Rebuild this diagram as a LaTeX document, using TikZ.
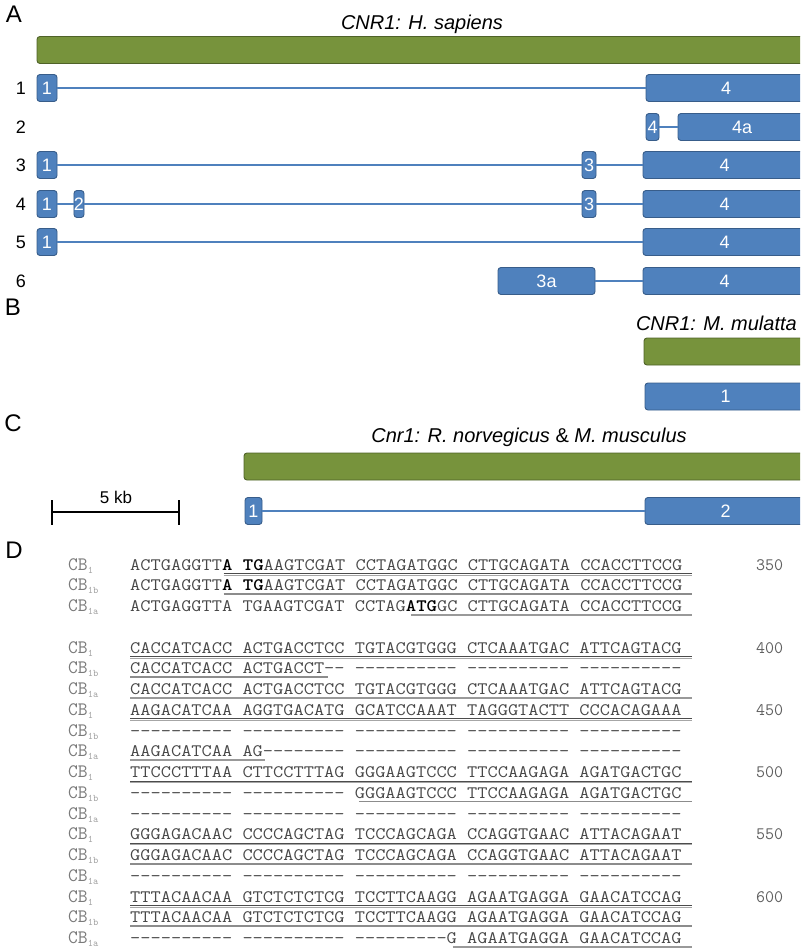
\documentclass[tikz,border=0pt]{standalone}
\usepackage{fontspec}
\setmainfont{Liberation Sans}
\usepackage{graphicx}
\definecolor{exfill}{HTML}{4F81BD}
\definecolor{exdraw}{HTML}{385D8A}
\definecolor{gnfill}{HTML}{77933C}
\definecolor{gndraw}{HTML}{4F6228}
\definecolor{seqc}{HTML}{484848}
\definecolor{labc}{HTML}{7A7A7A}
\definecolor{subc}{HTML}{A0A0A0}
\definecolor{numc}{HTML}{606060}
\newcommand\seqfont{\ttfamily\fontsize{17.5}{17.5}\selectfont}
\newcommand\labfont{\ttfamily\fontsize{19}{19}\selectfont}
\newcommand\hyp[1]{\foreach \hi in {1,...,#1}{-\kern0pt}}
\newcommand\subl[1]{\raisebox{-3pt}{\fontsize{10}{10}\selectfont\color{subc}#1}}
\newcommand\srow[6]{%
  \pgfmathsetmacro\yb{570+20.75*#1}%
  \node[seqlab] (L#1) at (68,\yb) {CB\subl{#2}};%
  \node[seqtxt] (S#1) at (130,\yb) {\scalebox{1.133}[1]{#3}};%
  \ifnum#4<#5\relax
    \draw[ul#2] (130+10.407*#4,\yb+3.4) -- (130+10.407*#5,\yb+3.4);%
    \draw[ulx#2] (130+10.407*#4,\yb+5) -- (130+10.407*#5,\yb+5);%
  \fi
  \if\relax\detokenize{#6}\relax\else
    \node[seqnum] (N#1) at (756,\yb) {#6};%
  \fi
}
\begin{document}
\begin{tikzpicture}[x=1pt,y=-1pt,
  exon/.style={draw=exdraw, fill=exfill, rounded corners=3pt, line width=0.9pt,
    minimum height=27pt, inner sep=0pt, text=white, font=\fontsize{18}{18}\selectfont},
  gene/.style={draw=gndraw, fill=gnfill, rounded corners=3pt, line width=0.9pt,
    minimum height=27pt, inner sep=0pt},
  intron/.style={draw=exfill, line width=2pt},
  rownum/.style={font=\fontsize{18}{18}\selectfont, inner sep=0pt},
  panel/.style={font=\fontsize{24}{24}\selectfont, inner sep=0pt},
  ttl/.style={font=\fontsize{20}{20}\selectfont\itshape, inner sep=0pt},
  seqlab/.style={anchor=base west, inner sep=0pt, font=\labfont, text=labc},
  seqtxt/.style={anchor=base west, inner sep=0pt, font=\seqfont, text=seqc},
  seqnum/.style={anchor=base west, inner sep=0pt, font=\seqfont, text=numc},
  ul1/.style={draw=black!70, line width=0.8pt},
  ulx1/.style={draw=black!35, line width=0.9pt},
  ul1b/.style={draw=black!45, line width=1.6pt},
  ulx1b/.style={draw=none},
  ul1a/.style={draw=black!40, line width=1.4pt},
  ulx1a/.style={draw=none}
]
\useasboundingbox (0,0) rectangle (800,952);
\begin{scope}
\clip (0,0) rectangle (800,952);
% Panel letters
\node[panel] (pA) at (14,14) {A};
\node[panel] (pB) at (13,307) {B};
\node[panel] (pC) at (13,423) {C};
\node[panel] (pD) at (14,550) {D};
% Panel A
\node[ttl] (tA) at (422,24) {CNR1: H. sapiens};
\node[gene, minimum width=769pt] (gA) at (421.5,50) {};
\foreach \n/\y in {1/88,2/127,3/165,4/204,5/242,6/281}
  \node[rownum] (rn\n) at (21,\y) {\n};
% row 1
\node[exon, minimum width=20pt] (a1e1) at (47,88) {1};
\node[exon, minimum width=160pt] (a1e4) at (726,88) {4};
\draw[intron] (a1e1.east) -- (a1e4.west);
% row 2
\node[exon, minimum width=13pt] (a2e4) at (652.5,127) {4};
\node[exon, minimum width=128pt] (a2e4a) at (742,127) {4a};
\draw[intron] (a2e4.east) -- (a2e4a.west);
% row 3
\node[exon, minimum width=20pt] (a3e1) at (47,165) {1};
\node[exon, minimum width=14pt] (a3e3) at (589,165) {3};
\node[exon, minimum width=163pt] (a3e4) at (724.5,165) {4};
\draw[intron] (a3e1.east) -- (a3e3.west);
\draw[intron] (a3e3.east) -- (a3e4.west);
% row 4
\node[exon, minimum width=20pt] (a4e1) at (47,204) {1};
\node[exon, minimum width=7pt] (a4e2) at (79,204) {2};
\node[exon, minimum width=14pt] (a4e3) at (589,204) {3};
\node[exon, minimum width=163pt] (a4e4) at (724.5,204) {4};
\draw[intron] (a4e1.east) -- (a4e2.west);
\draw[intron] (a4e2.east) -- (a4e3.west);
\draw[intron] (a4e3.east) -- (a4e4.west);
% row 5
\node[exon, minimum width=20pt] (a5e1) at (47,242) {1};
\node[exon, minimum width=163pt] (a5e4) at (724.5,242) {4};
\draw[intron] (a5e1.east) -- (a5e4.west);
% row 6
\node[exon, minimum width=97pt] (a6e3a) at (546.5,281) {3a};
\node[exon, minimum width=163pt] (a6e4) at (724.5,281) {4};
\draw[intron] (a6e3a.east) -- (a6e4.west);
% Panel B
\node[ttl, anchor=east] (tB) at (797,323) {CNR1: M. mulatta};
\node[gene, minimum width=162pt] (gB) at (725,351.5) {};
\node[exon, minimum width=161pt] (b1) at (725.5,396.5) {1};
% Panel C
\node[ttl] (tC) at (529,437) {Cnr1: R. norvegicus {\upshape\&} M. musculus};
\node[gene, minimum width=562pt] (gC) at (525,466.5) {};
\node[exon, minimum width=17pt] (c1) at (253.5,511) {1};
\node[exon, minimum width=161pt] (c2) at (725.5,511) {2};
\draw[intron] (c1.east) -- (c2.west);
% scale bar
\coordinate (sL) at (52,512);
\coordinate (sR) at (179,512);
\draw[line width=2.4pt] (sL) -- (sR);
\draw[line width=2.4pt] ([yshift=12pt]sL) -- ([yshift=-13pt]sL);
\draw[line width=2.4pt] ([yshift=12pt]sR) -- ([yshift=-13pt]sR);
\node[font=\fontsize{17}{17}\selectfont, inner sep=0pt] (skb) at (116,497) {5 kb};
% Panel D
\srow{0}{1}{ACTGAGGTT\textbf{\color{black}A TG}AAGTCGAT CCTAGATGGC CTTGCAGATA CCACCTTCCG}{9}{54}{350}
\srow{1}{1b}{ACTGAGGTT\textbf{\color{black}A TG}AAGTCGAT CCTAGATGGC CTTGCAGATA CCACCTTCCG}{9}{54}{}
\srow{2}{1a}{ACTGAGGTTA TGAAGTCGAT CCTAG\textbf{\color{black}ATG}GC CTTGCAGATA CCACCTTCCG}{27}{54}{}
\srow{4}{1}{CACCATCACC ACTGACCTCC TGTACGTGGG CTCAAATGAC ATTCAGTACG}{0}{54}{400}
\srow{5}{1b}{CACCATCACC ACTGACCT\hyp{2} \hyp{10} \hyp{10} \hyp{10}}{0}{19}{}
\srow{6}{1a}{CACCATCACC ACTGACCTCC TGTACGTGGG CTCAAATGAC ATTCAGTACG}{0}{54}{}
\srow{7}{1}{AAGACATCAA AGGTGACATG GCATCCAAAT TAGGGTACTT CCCACAGAAA}{0}{54}{450}
\srow{8}{1b}{\hyp{10} \hyp{10} \hyp{10} \hyp{10} \hyp{10}}{0}{0}{}
\srow{9}{1a}{AAGACATCAA AG\hyp{8} \hyp{10} \hyp{10} \hyp{10}}{0}{13}{}
\srow{10}{1}{TTCCCTTTAA CTTCCTTTAG GGGAAGTCCC TTCCAAGAGA AGATGACTGC}{0}{54}{500}
\srow{11}{1b}{\hyp{10} \hyp{10} GGGAAGTCCC TTCCAAGAGA AGATGACTGC}{22}{54}{}
\srow{12}{1a}{\hyp{10} \hyp{10} \hyp{10} \hyp{10} \hyp{10}}{0}{0}{}
\srow{13}{1}{GGGAGACAAC CCCCAGCTAG TCCCAGCAGA CCAGGTGAAC ATTACAGAAT}{0}{54}{550}
\srow{14}{1b}{GGGAGACAAC CCCCAGCTAG TCCCAGCAGA CCAGGTGAAC ATTACAGAAT}{0}{54}{}
\srow{15}{1a}{\hyp{10} \hyp{10} \hyp{10} \hyp{10} \hyp{10}}{0}{0}{}
\srow{16}{1}{TTTACAACAA GTCTCTCTCG TCCTTCAAGG AGAATGAGGA GAACATCCAG}{0}{54}{600}
\srow{17}{1b}{TTTACAACAA GTCTCTCTCG TCCTTCAAGG AGAATGAGGA GAACATCCAG}{0}{54}{}
\srow{18}{1a}{\hyp{10} \hyp{10} \hyp{9}G AGAATGAGGA GAACATCCAG}{31}{54}{}
\end{scope}
\end{tikzpicture}
\end{document}
